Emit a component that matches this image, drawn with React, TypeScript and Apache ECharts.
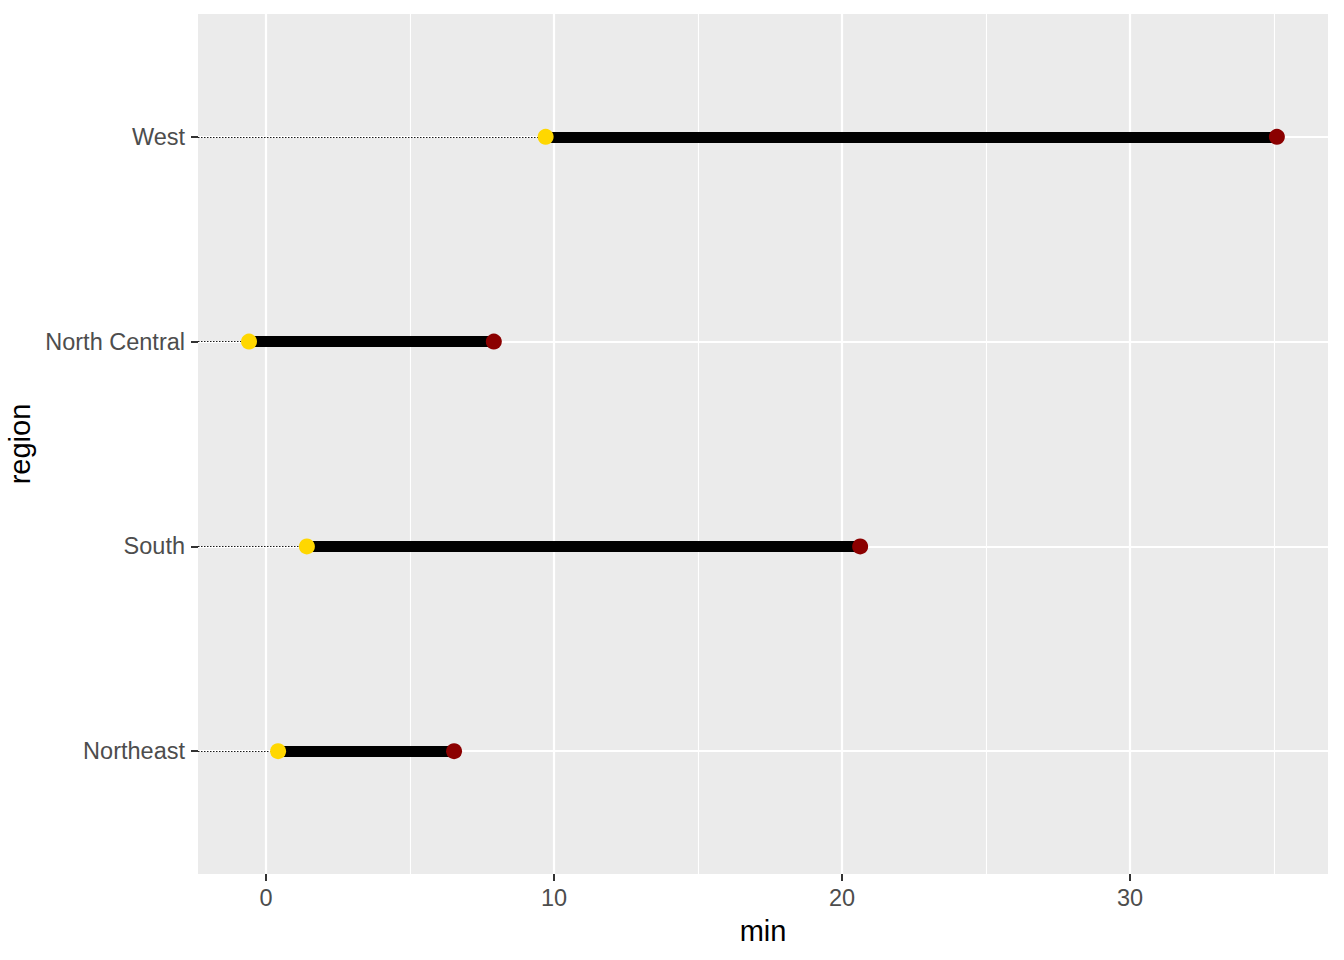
import React, { useEffect, useRef } from "react";
import * as echarts from "echarts";

const regions = ["Northeast", "South", "North Central", "West"];
const minValues = [0.42, 1.42, -0.59, 9.71];
const maxValues = [6.53, 20.63, 7.91, 35.1];
const xTicks = [0, 10, 20, 30];
const xMinorTicks = [5, 15, 25, 35];
const yPositions = [1, 2, 3, 4];

const X_MIN = -2.361;
const X_MAX = 36.875;
const Y_MIN = 0.4;
const Y_MAX = 4.6;

export default function App() {
  const ref = useRef<HTMLDivElement>(null);
  useEffect(() => {
    if (!ref.current) return;
    const chart = echarts.init(ref.current, null, { renderer: "svg" });
    const tickFont = "Liberation Sans, Arial, sans-serif";
    const axisLineStyle = {
      show: true,
      onZero: false,
      lineStyle: { color: "#EBEBEB", width: 0.01 },
    };
    const option: any = {
      animation: false,
      backgroundColor: "#ffffff",
      grid: {
        left: 198,
        right: 16,
        top: 14,
        bottom: 86,
        show: true,
        backgroundColor: "#EBEBEB",
        borderWidth: 0,
        containLabel: false,
        outerBoundsMode: "none",
      },
      xAxis: {
        type: "value",
        min: X_MIN,
        max: X_MAX,
        name: "min",
        nameLocation: "middle",
        nameGap: 42,
        nameTextStyle: { color: "#000", fontSize: 29, fontFamily: tickFont },
        axisLine: axisLineStyle,
        axisTick: {
          show: true,
          customValues: xTicks,
          length: 7,
          lineStyle: { color: "#333333", width: 2 },
        },
        axisLabel: {
          customValues: xTicks,
          color: "#4D4D4D",
          fontSize: 23.5,
          fontFamily: tickFont,
          margin: 12,
          formatter: (v: number) => String(v),
        },
        splitLine: { show: false },
      },
      yAxis: {
        type: "value",
        min: Y_MIN,
        max: Y_MAX,
        name: "region",
        nameLocation: "middle",
        nameGap: 154,
        nameRotate: 90,
        nameTextStyle: { color: "#000", fontSize: 29, fontFamily: tickFont },
        axisLine: axisLineStyle,
        axisTick: {
          show: true,
          customValues: yPositions,
          length: 7,
          lineStyle: { color: "#333333", width: 2 },
        },
        axisLabel: {
          customValues: yPositions,
          color: "#4D4D4D",
          fontSize: 23.5,
          fontFamily: tickFont,
          margin: 13,
          formatter: (v: number) => {
            const i = Math.round(v) - 1;
            return regions[i] ?? "";
          },
        },
        splitLine: { show: false },
      },
      series: [
        {
          type: "line",
          data: [],
          silent: true,
          z: 1,
          markLine: {
            silent: true,
            z: 1,
            symbol: "none",
            label: { show: false },
            animation: false,
            data: [
              ...xMinorTicks.map((v) => ({
                xAxis: v,
                lineStyle: { color: "#ffffff", width: 1.1, type: "solid" },
              })),
              ...xTicks.map((v) => ({
                xAxis: v,
                lineStyle: { color: "#ffffff", width: 2.2, type: "solid" },
              })),
              ...yPositions.map((v) => ({
                yAxis: v,
                lineStyle: { color: "#ffffff", width: 2.2, type: "solid" },
              })),
            ],
          },
        },
        {
          type: "lines",
          coordinateSystem: "cartesian2d",
          z: 6,
          silent: true,
          lineStyle: { color: "#1a1a1a", width: 1, type: [1.5, 1.5], opacity: 1 },
          data: regions.map((_, i) => ({
            coords: [
              [X_MIN, yPositions[i]],
              [minValues[i], yPositions[i]],
            ],
          })),
        },
        {
          type: "lines",
          coordinateSystem: "cartesian2d",
          z: 7,
          silent: true,
          lineStyle: { color: "#000000", width: 11, type: "solid", opacity: 1, cap: "butt" },
          data: regions.map((_, i) => ({
            coords: [
              [minValues[i], yPositions[i]],
              [maxValues[i], yPositions[i]],
            ],
          })),
        },
        {
          type: "scatter",
          z: 8,
          symbol: "circle",
          symbolSize: 16,
          itemStyle: { color: "#FFD700", opacity: 1 },
          data: minValues.map((v, i) => [v, yPositions[i]]),
        },
        {
          type: "scatter",
          z: 9,
          symbol: "circle",
          symbolSize: 16,
          itemStyle: { color: "#8B0000", opacity: 1 },
          data: maxValues.map((v, i) => [v, yPositions[i]]),
        },
      ],
    };
    chart.setOption(option);
    return () => chart.dispose();
  }, []);
  return (
    <div
      ref={ref}
      style={{ position: "fixed", left: 0, top: 0, width: 1344, height: 960 }}
    />
  );
}
